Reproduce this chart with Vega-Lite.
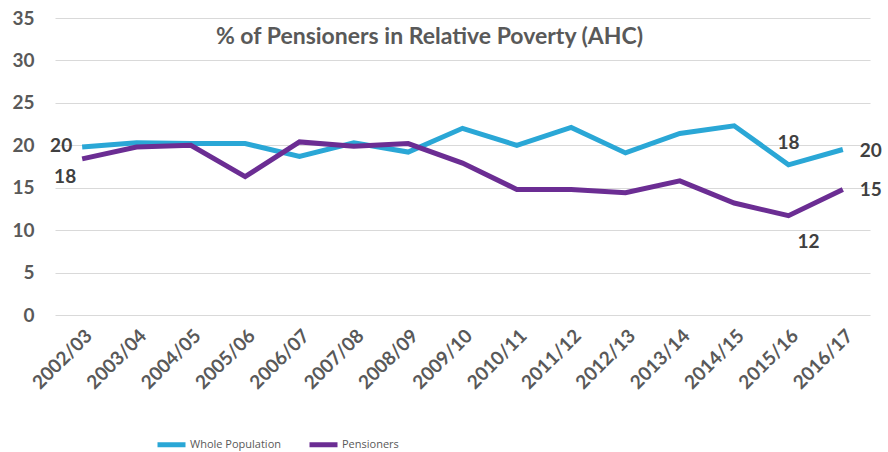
{
  "$schema": "https://vega.github.io/schema/vega-lite/v6.json",
  "autosize": {"type": "none"},
  "width": 815,
  "height": 297,
  "padding": {"left": 55, "top": 18, "right": 18, "bottom": 137},
  "background": "white",
  "config": {
    "view": {"stroke": null},
    "font": "Lato",
    "axis": {"labelFont": "Lato", "labelFontWeight": "bold", "labelColor": "#595959"}
  },
  "title": {
    "text": "% of Pensioners in Relative Poverty (AHC)",
    "font": "Lato",
    "fontSize": 23,
    "fontWeight": "bold",
    "color": "#595959",
    "anchor": "middle",
    "dx": -33,
    "offset": -40
  },
  "data": {
    "values": [
      {"year": "2002/03", "series": "Whole Population", "value": 19.8},
      {"year": "2003/04", "series": "Whole Population", "value": 20.3},
      {"year": "2004/05", "series": "Whole Population", "value": 20.2},
      {"year": "2005/06", "series": "Whole Population", "value": 20.2},
      {"year": "2006/07", "series": "Whole Population", "value": 18.7},
      {"year": "2007/08", "series": "Whole Population", "value": 20.3},
      {"year": "2008/09", "series": "Whole Population", "value": 19.2},
      {"year": "2009/10", "series": "Whole Population", "value": 22.0},
      {"year": "2010/11", "series": "Whole Population", "value": 20.0},
      {"year": "2011/12", "series": "Whole Population", "value": 22.1},
      {"year": "2012/13", "series": "Whole Population", "value": 19.1},
      {"year": "2013/14", "series": "Whole Population", "value": 21.4},
      {"year": "2014/15", "series": "Whole Population", "value": 22.3},
      {"year": "2015/16", "series": "Whole Population", "value": 17.7},
      {"year": "2016/17", "series": "Whole Population", "value": 19.5},
      {"year": "2002/03", "series": "Pensioners", "value": 18.4},
      {"year": "2003/04", "series": "Pensioners", "value": 19.8},
      {"year": "2004/05", "series": "Pensioners", "value": 20.0},
      {"year": "2005/06", "series": "Pensioners", "value": 16.3},
      {"year": "2006/07", "series": "Pensioners", "value": 20.4},
      {"year": "2007/08", "series": "Pensioners", "value": 19.9},
      {"year": "2008/09", "series": "Pensioners", "value": 20.2},
      {"year": "2009/10", "series": "Pensioners", "value": 17.9},
      {"year": "2010/11", "series": "Pensioners", "value": 14.8},
      {"year": "2011/12", "series": "Pensioners", "value": 14.8},
      {"year": "2012/13", "series": "Pensioners", "value": 14.4},
      {"year": "2013/14", "series": "Pensioners", "value": 15.8},
      {"year": "2014/15", "series": "Pensioners", "value": 13.2},
      {"year": "2015/16", "series": "Pensioners", "value": 11.7},
      {"year": "2016/17", "series": "Pensioners", "value": 14.8}
    ]
  },
  "encoding": {
    "x": {
      "field": "year", "type": "ordinal", "sort": null,
      "scale": {"type": "point", "padding": 0.5},
      "axis": {
        "title": null, "labelAngle": -45, "labelFontSize": 19,
        "ticks": false, "domain": false, "labelPadding": 11
      }
    },
    "y": {
      "field": "value", "type": "quantitative",
      "scale": {"domain": [0, 35], "nice": false},
      "axis": {
        "title": null, "values": [0, 5, 10, 15, 20, 25, 30, 35],
        "labelFontSize": 19, "labelPadding": 21, "ticks": false, "domain": false,
        "gridColor": "#d9d9d9", "gridWidth": 1.2
      }
    }
  },
  "layer": [
    {
      "mark": {"type": "line", "strokeWidth": 5, "strokeJoin": "miter"},
      "encoding": {
        "color": {
          "field": "series", "type": "nominal",
          "scale": {"domain": ["Whole Population", "Pensioners"], "range": ["#2aa7d6", "#6b2d93"]},
          "legend": {
            "title": null, "orient": "none", "legendX": 100, "legendY": 410,
            "direction": "horizontal",
            "symbolType": "stroke", "symbolStrokeWidth": 5, "symbolSize": 784,
            "labelFont": "Open Sans", "labelFontSize": 11, "labelColor": "#595959",
            "columnPadding": 18, "labelOffset": 2
          }
        }
      }
    },
    {
      "transform": [{"filter": "datum.year == '2002/03' && datum.series == 'Whole Population'"}],
      "mark": {"type": "text", "align": "right", "baseline": "middle", "dx": -10, "dy": -1, "fontSize": 19, "fontWeight": "bold", "color": "#404040", "font": "Lato"},
      "encoding": {"text": {"field": "value", "type": "quantitative", "format": ".0f"}}
    },
    {
      "transform": [{"filter": "datum.year == '2002/03' && datum.series == 'Pensioners'"}],
      "mark": {"type": "text", "align": "right", "baseline": "middle", "dx": -6, "dy": 18, "fontSize": 19, "fontWeight": "bold", "color": "#404040", "font": "Lato"},
      "encoding": {"text": {"field": "value", "type": "quantitative", "format": ".0f"}}
    },
    {
      "transform": [{"filter": "datum.year == '2015/16' && datum.series == 'Whole Population'"}],
      "mark": {"type": "text", "align": "center", "baseline": "middle", "dx": 0, "dy": -22, "fontSize": 19, "fontWeight": "bold", "color": "#404040", "font": "Lato"},
      "encoding": {"text": {"field": "value", "type": "quantitative", "format": ".0f"}}
    },
    {
      "transform": [{"filter": "datum.year == '2015/16' && datum.series == 'Pensioners'"}],
      "mark": {"type": "text", "align": "center", "baseline": "middle", "dx": 20, "dy": 26, "fontSize": 19, "fontWeight": "bold", "color": "#404040", "font": "Lato"},
      "encoding": {"text": {"field": "value", "type": "quantitative", "format": ".0f"}}
    },
    {
      "transform": [{"filter": "datum.year == '2016/17'"}],
      "mark": {"type": "text", "align": "left", "baseline": "middle", "dx": 17, "dy": 1, "fontSize": 19, "fontWeight": "bold", "color": "#404040", "font": "Lato"},
      "encoding": {"text": {"field": "value", "type": "quantitative", "format": ".0f"}}
    }
  ]
}
